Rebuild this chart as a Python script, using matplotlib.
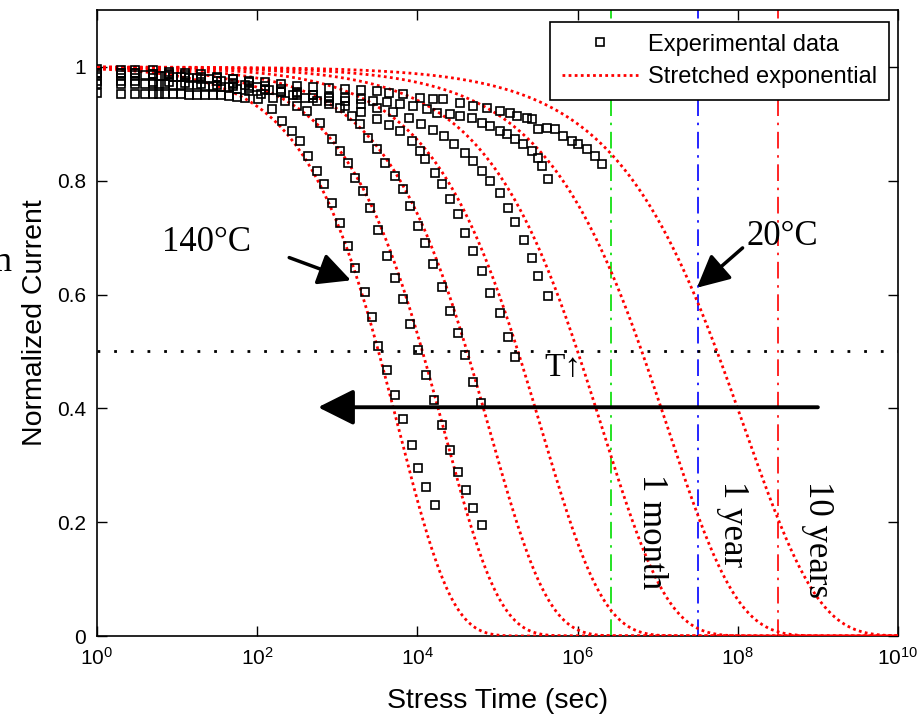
import numpy as np
import matplotlib
matplotlib.use("Agg")
import matplotlib.pyplot as plt
from matplotlib.lines import Line2D

plt.rcParams["font.family"] = ["Liberation Sans", "DejaVu Sans"]
plt.rcParams["mathtext.fontset"] = "custom"
plt.rcParams["mathtext.rm"] = "Liberation Sans"
plt.rcParams["mathtext.it"] = "Liberation Sans:italic"

# stretched exponential fits, one per stress temperature (140C ... 20C)
tau_fit = [5.75e3, 2.09e4, 7.76e4, 3.47e5, 2.0e6, 1.32e7, 1.2e8]
beta_fit = [0.65, 0.62, 0.59, 0.56, 0.53, 0.50, 0.47]

# measured normalized current, time given as log10(seconds)
logt_1 = [0, 0.3, 0.48, 0.6, 0.7, 0.78, 0.85, 0.95, 1.05, 1.15, 1.25, 1.35, 1.45, 1.55, 1.65, 1.75, 1.85,
          2.01, 2.18, 2.31, 2.43, 2.53, 2.63, 2.75, 2.83, 2.93, 3.03, 3.13, 3.22, 3.35, 3.43, 3.51,
          3.62, 3.72, 3.82, 3.93, 4.01, 4.11, 4.22]
cur_1 = [0.955, 0.953, 0.953, 0.953, 0.953, 0.953, 0.953, 0.952, 0.952, 0.951, 0.951, 0.95, 0.95, 0.95, 0.949,
         0.948, 0.946, 0.944, 0.926, 0.905, 0.888, 0.870, 0.844, 0.818, 0.795, 0.761, 0.725, 0.686, 0.646,
         0.604, 0.56, 0.51, 0.467, 0.423, 0.382, 0.335, 0.296, 0.261, 0.23]

logt_2 = [0, 0.3, 0.48, 0.6, 0.7, 0.78, 0.85, 0.95, 1.05, 1.15, 1.25, 1.35, 1.45, 1.55, 1.65, 1.75, 1.9,
          2.05, 2.2, 2.35, 2.5, 2.62, 2.78, 2.93, 3.03, 3.13, 3.22, 3.32, 3.41, 3.51, 3.62, 3.72, 3.82,
          3.91, 4.01, 4.11, 4.21, 4.31, 4.41, 4.51, 4.61, 4.69, 4.81]
cur_2 = [0.97, 0.97, 0.97, 0.97, 0.97, 0.97, 0.97, 0.969, 0.969, 0.968, 0.968, 0.967, 0.966, 0.965, 0.964,
         0.962, 0.958, 0.953, 0.946, 0.94, 0.932, 0.923, 0.902, 0.874, 0.853, 0.832, 0.805, 0.782, 0.753,
         0.714, 0.668, 0.63, 0.593, 0.549, 0.502, 0.458, 0.414, 0.37, 0.326, 0.288, 0.256, 0.225, 0.195]

logt_3 = [0, 0.3, 0.48, 0.6, 0.7, 0.78, 0.85, 0.95, 1.05, 1.15, 1.25, 1.4, 1.55, 1.7, 1.85, 2.0, 2.15,
          2.3, 2.45, 2.6, 2.75, 2.9, 3.03, 3.18, 3.28, 3.38, 3.5, 3.6, 3.72, 3.82, 3.91, 4.01, 4.09,
          4.19, 4.31, 4.41, 4.51, 4.59, 4.69, 4.79]
cur_3 = [0.986, 0.986, 0.985, 0.985, 0.985, 0.984, 0.984, 0.983, 0.982, 0.981, 0.98, 0.978, 0.975, 0.972,
         0.968, 0.964, 0.96, 0.956, 0.951, 0.946, 0.941, 0.935, 0.928, 0.914, 0.9, 0.875, 0.856, 0.832,
         0.809, 0.786, 0.756, 0.721, 0.691, 0.654, 0.614, 0.572, 0.532, 0.493, 0.446, 0.409]

logt_4 = [0, 0.3, 0.48, 0.7, 0.9, 1.1, 1.3, 1.5, 1.7, 1.9, 2.1, 2.3, 2.5, 2.7, 2.9, 3.1, 3.3, 3.5, 3.65,
          3.78, 3.93, 4.03, 4.09, 4.22, 4.31, 4.41, 4.51, 4.59, 4.69, 4.81, 4.91, 5.03, 5.13, 5.22]
cur_4 = [0.99, 0.99, 0.989, 0.988, 0.986, 0.983, 0.979, 0.975, 0.97, 0.966, 0.961, 0.956, 0.951, 0.946,
         0.94, 0.932, 0.921, 0.908, 0.898, 0.888, 0.87, 0.853, 0.838, 0.814, 0.795, 0.768, 0.742, 0.709,
         0.677, 0.642, 0.602, 0.567, 0.525, 0.49]

logt_5 = [0, 0.3, 0.48, 0.7, 0.9, 1.1, 1.3, 1.5, 1.7, 1.9, 2.1, 2.3, 2.5, 2.7, 2.9, 3.1, 3.3, 3.5, 3.7,
          3.9, 4.05, 4.2, 4.33, 4.46, 4.59, 4.69, 4.81, 4.91, 5.03, 5.13, 5.22, 5.33, 5.43, 5.51, 5.63]
cur_5 = [0.996, 0.995, 0.995, 0.994, 0.992, 0.99, 0.987, 0.983, 0.978, 0.973, 0.967, 0.962, 0.956, 0.951,
         0.946, 0.941, 0.935, 0.928, 0.92, 0.91, 0.9, 0.89, 0.879, 0.865, 0.849, 0.835, 0.818, 0.8, 0.779,
         0.753, 0.728, 0.696, 0.665, 0.633, 0.598]

logt_6 = [0, 0.3, 0.48, 0.7, 0.9, 1.1, 1.3, 1.5, 1.7, 1.9, 2.1, 2.3, 2.5, 2.7, 2.9, 3.1, 3.3, 3.45, 3.62,
          3.78, 3.95, 4.12, 4.24, 4.41, 4.53, 4.68, 4.81, 4.91, 5.03, 5.12, 5.22, 5.32, 5.43, 5.51, 5.55,
          5.63]
cur_6 = [0.975, 0.975, 0.975, 0.974, 0.973, 0.972, 0.97, 0.968, 0.966, 0.963, 0.96, 0.957, 0.954, 0.951,
         0.948, 0.946, 0.943, 0.941, 0.938, 0.935, 0.932, 0.926, 0.919, 0.918, 0.914, 0.91, 0.902, 0.896,
         0.888, 0.882, 0.874, 0.865, 0.853, 0.84, 0.826, 0.803]

logt_7 = [0, 0.3, 0.48, 0.7, 0.9, 1.1, 1.3, 1.5, 1.7, 1.9, 2.1, 2.3, 2.5, 2.7, 2.9, 3.1, 3.3, 3.5, 3.65,
          3.82, 4.03, 4.19, 4.32, 4.53, 4.69, 4.87, 5.03, 5.16, 5.24, 5.37, 5.43, 5.51, 5.62, 5.72, 5.82,
          5.93, 6.0, 6.12, 6.22, 6.3]
cur_7 = [0.99, 0.99, 0.989, 0.988, 0.987, 0.985, 0.983, 0.981, 0.979, 0.976, 0.973, 0.97, 0.967, 0.965,
         0.963, 0.961, 0.959, 0.957, 0.955, 0.953, 0.946, 0.944, 0.944, 0.937, 0.932, 0.928, 0.923, 0.919,
         0.914, 0.91, 0.909, 0.891, 0.893, 0.891, 0.879, 0.87, 0.865, 0.856, 0.844, 0.83]

exp_logt = [logt_1, logt_2, logt_3, logt_4, logt_5, logt_6, logt_7]
exp_cur = [cur_1, cur_2, cur_3, cur_4, cur_5, cur_6, cur_7]

# lifetime markers in seconds
life_times = [2.592e6, 3.1536e7, 3.1536e8]
life_labels = ["1 month", "1 year", "10 years"]
life_colors = ["#00dd00", "#0000ff", "#ff0000"]

fig = plt.figure(figsize=(9.21, 7.18), dpi=100)
ax = fig.add_axes([0.1053, 0.1142, 0.8697, 0.8718])

t = np.logspace(0, 10, 1200)
for tau, beta in zip(tau_fit, beta_fit):
    ax.plot(t, np.exp(-(t / tau) ** beta), color="red", lw=2, linestyle=(0, (1, 1.2)), zorder=3)

for lt, cur in zip(exp_logt, exp_cur):
    ax.plot(10 ** np.array(lt), cur, "s", mfc="none", mec="black", ms=5.5, mew=1.2, zorder=4)

for tl, col in zip(life_times, life_colors):
    ax.axvline(tl, color=col, lw=1.2, linestyle=(0, (10, 4, 1.5, 4)), zorder=2)

ax.axhline(0.5, color="black", lw=2, linestyle=(0, (1, 5)), zorder=2)

serif = ["Liberation Serif", "DejaVu Serif"]
ax.text(10 ** 6.92, 0.284, life_labels[0], rotation=270, ha="center", va="top", fontsize=25, family=serif)
ax.text(10 ** 7.94, 0.272, life_labels[1], rotation=270, ha="center", va="top", fontsize=25, family=serif)
ax.text(10 ** 9.0, 0.272, life_labels[2], rotation=270, ha="center", va="top", fontsize=25, family=serif)

arrow_kw = dict(arrowstyle="-|>,head_length=0.9,head_width=0.45", color="black", lw=2.5,
                mutation_scale=22, shrinkA=0, shrinkB=0)
ax.annotate("", xy=(10 ** 3.17, 0.625), xytext=(10 ** 2.4, 0.665), arrowprops=arrow_kw)
ax.text(10 ** 1.37, 0.691, "140°C", ha="center", va="center", fontsize=25, family=serif)
ax.annotate("", xy=(10 ** 7.49, 0.612), xytext=(10 ** 8.06, 0.682), arrowprops=arrow_kw)
ax.text(10 ** 8.56, 0.702, "20°C", ha="center", va="center", fontsize=25, family=serif)

ax.annotate("", xy=(10 ** 2.76, 0.402), xytext=(10 ** 9.0, 0.402),
            arrowprops=dict(arrowstyle="-|>,head_length=1.0,head_width=0.5", color="black", lw=2.8,
                            mutation_scale=22, shrinkA=0, shrinkB=0))
ax.text(10 ** 5.82, 0.472, "T↑", ha="center", va="center", fontsize=24, family=serif)

ax.set_xscale("log")
ax.set_xlim(1, 1e10)
ax.set_ylim(0, 1.1)
ax.set_xticks([10.0 ** k for k in range(0, 11, 2)])
ax.set_xticklabels([r"$10^{%d}$" % k for k in range(0, 11, 2)])
ax.xaxis.set_minor_locator(matplotlib.ticker.NullLocator())
ax.set_yticks([0, 0.2, 0.4, 0.6, 0.8, 1.0])
ax.set_yticklabels(["0", "0.2", "0.4", "0.6", "0.8", "1"])
ax.tick_params(direction="in", top=True, right=True, length=7, width=1, labelsize=15, pad=8)
for s in ax.spines.values():
    s.set_linewidth(1.2)

ax.set_xlabel("Stress Time (sec)", fontsize=20.5, labelpad=14)
ax.set_ylabel("Normalized Current", fontsize=20.5, labelpad=6)

handles = [Line2D([], [], marker="s", ls="none", mfc="none", mec="black", ms=5.5, mew=1.2),
           Line2D([], [], color="red", lw=2, linestyle=(0, (1, 1.2)))]
leg = ax.legend(handles, ["Experimental data", "Stretched exponential"], loc="upper right",
                bbox_to_anchor=(0.989, 0.981), borderaxespad=0, fontsize=17, fancybox=False,
                framealpha=1, edgecolor="black", handlelength=3.2, handletextpad=0.45,
                labelspacing=0.45, borderpad=0.5)
leg.get_frame().set_linewidth(1.2)

fig.text(-0.008, 0.635, "n", fontsize=26, family=serif, ha="left", va="center")

fig.savefig("out.png", dpi=100)
